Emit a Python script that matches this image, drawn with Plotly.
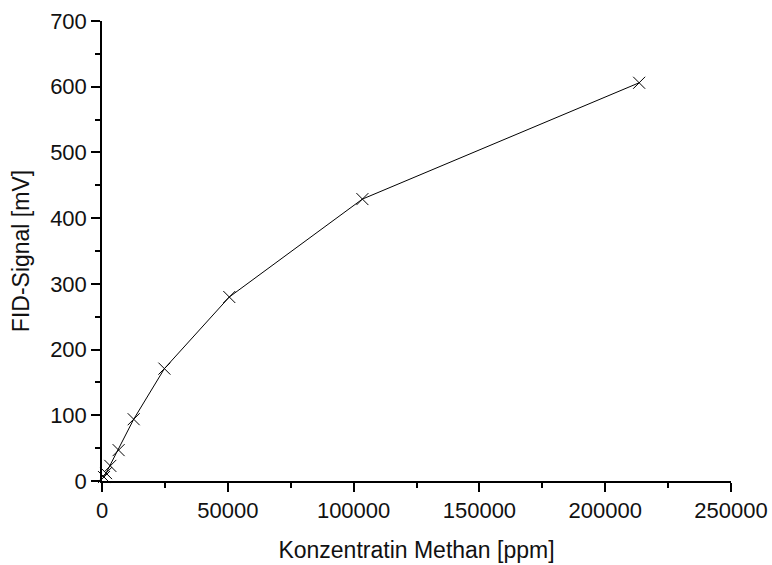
import plotly.graph_objects as go

# Data
konzentration_ppm = [800, 1600, 3300, 6600, 12600, 24800, 50600, 103500, 213500]
fid_signal_mv = [6, 12, 23, 47, 94, 171, 280, 429, 606]

x_title = "Konzentratin Methan [ppm]"
y_title = "FID-Signal [mV]"

font_family = "Liberation Sans, Arial, Helvetica, sans-serif"
tick_size = 22
title_size = 23

fig = go.Figure()
fig.add_trace(go.Scatter(
    x=konzentration_ppm,
    y=fid_signal_mv,
    mode="lines+markers",
    line=dict(color="black", width=1),
    marker=dict(symbol="x-thin", size=12, line=dict(color="black", width=1), color="black"),
    showlegend=False,
    cliponaxis=False,
))

axis_common = dict(
    showline=True, linecolor="black", linewidth=1.5,
    ticks="outside", ticklen=9, tickwidth=1.5, tickcolor="black",
    showgrid=False, zeroline=False, mirror=False, automargin=False,
    tickfont=dict(family=font_family, size=tick_size, color="#111111"),
)

fig.update_xaxes(
    range=[0, 250000], dtick=50000, tick0=0, tickformat="d",
    minor=dict(dtick=25000, ticks="outside", ticklen=5, tickwidth=1.5, tickcolor="black", showgrid=False),
    title=dict(text=x_title, font=dict(family=font_family, size=title_size, color="#111111"), standoff=20),
    **axis_common,
)
fig.update_yaxes(
    range=[0, 700], dtick=100, tick0=0,
    minor=dict(dtick=50, ticks="outside", ticklen=5, tickwidth=1.5, tickcolor="black", showgrid=False),
    title=dict(text=y_title, font=dict(family=font_family, size=title_size, color="#111111"), standoff=14),
    **axis_common,
)

fig.update_layout(
    width=772, height=565,
    margin=dict(l=102, r=41, t=21, b=84),
    paper_bgcolor="white", plot_bgcolor="white",
)

fig.write_html("out.html")
